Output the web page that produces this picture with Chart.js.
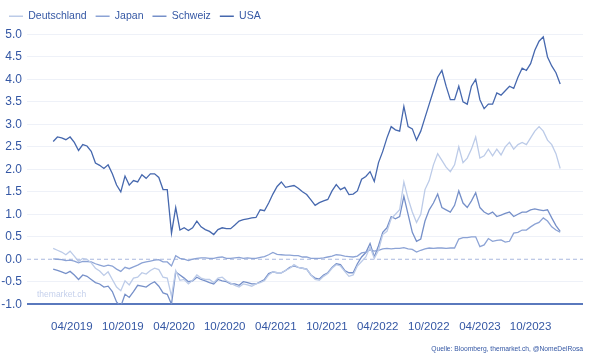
<!DOCTYPE html>
<html>
<head>
<meta charset="utf-8">
<script src="https://cdn.jsdelivr.net/npm/chart.js@4/dist/chart.umd.min.js"></script>
<style>
  html, body { margin: 0; padding: 0; background: #fff; }
  canvas { display: block; }
</style>
</head>
<body>
<canvas id="yieldChart" width="606" height="362"></canvas>
<script>
// 10y government bond yields, one value every half month, 01/2019 .. 12/2023
const deutschland = [
  0.24, 0.20, 0.16, 0.10, 0.18, 0.07, -0.05, 0.02, 0.00, -0.08, -0.20, -0.26,
  -0.36, -0.28, -0.45, -0.62, -0.70, -0.48, -0.57, -0.42, -0.40, -0.30, -0.33, -0.25,
  -0.20, -0.23, -0.40, -0.42, -0.82, -0.25, -0.47, -0.45, -0.55, -0.47, -0.35, -0.42,
  -0.45, -0.45, -0.52, -0.42, -0.40, -0.48, -0.53, -0.58, -0.62, -0.55, -0.57, -0.60,
  -0.55, -0.52, -0.48, -0.35, -0.28, -0.30, -0.30, -0.25, -0.20, -0.12, -0.18, -0.20,
  -0.22, -0.35, -0.45, -0.47, -0.38, -0.32, -0.20, -0.12, -0.15, -0.27, -0.38, -0.35,
  -0.15, -0.05, 0.05, 0.27, 0.02, 0.20, 0.55, 0.62, 0.90, 1.00, 1.10, 1.72,
  1.35, 1.05, 0.82, 1.00, 1.55, 1.75, 2.10, 2.35, 2.20, 2.05, 1.95, 2.10,
  2.50, 2.15, 2.25, 2.45, 2.72, 2.25, 2.30, 2.45, 2.30, 2.45, 2.32, 2.50,
  2.60, 2.45, 2.55, 2.60, 2.55, 2.70, 2.85, 2.95, 2.85, 2.65, 2.55, 2.35,
  2.02
];
const japan = [
  0.01, 0.00, -0.01, -0.03, -0.02, -0.04, -0.08, -0.05, -0.05, -0.06, -0.10, -0.13,
  -0.16, -0.13, -0.15, -0.22, -0.27, -0.18, -0.21, -0.17, -0.13, -0.08, -0.06, -0.04,
  -0.02, -0.01, -0.06, -0.06, -0.15, 0.08, 0.02, 0.00, -0.03, 0.00, 0.02, 0.03,
  0.03, 0.02, 0.02, 0.04, 0.05, 0.02, 0.02, 0.03, 0.04, 0.02, 0.03, 0.02,
  0.02, 0.04, 0.06, 0.10, 0.15, 0.11, 0.10, 0.09, 0.09, 0.08, 0.08, 0.05,
  0.05, 0.02, 0.02, 0.02, 0.03, 0.05, 0.07, 0.10, 0.09, 0.07, 0.06, 0.05,
  0.07, 0.14, 0.16, 0.21, 0.18, 0.20, 0.23, 0.24, 0.23, 0.24, 0.24, 0.26,
  0.23, 0.22, 0.16, 0.20, 0.23, 0.25, 0.24, 0.25, 0.25, 0.24, 0.25, 0.25,
  0.45, 0.48, 0.48, 0.50, 0.50, 0.28, 0.32, 0.46, 0.40, 0.42, 0.43, 0.38,
  0.40, 0.58, 0.60, 0.65, 0.65, 0.72, 0.78, 0.82, 0.92, 0.85, 0.72, 0.65,
  0.60
];
const schweiz = [
  -0.22, -0.25, -0.28, -0.32, -0.27, -0.35, -0.45, -0.35, -0.38, -0.45, -0.52, -0.55,
  -0.62, -0.60, -0.72, -0.95, -1.05, -0.78, -0.85, -0.72, -0.58, -0.60, -0.62, -0.55,
  -0.50, -0.60, -0.75, -0.78, -1.00, -0.28, -0.35, -0.42, -0.50, -0.48, -0.40, -0.45,
  -0.48, -0.52, -0.55, -0.45, -0.48, -0.50, -0.55, -0.55, -0.58, -0.50, -0.52, -0.55,
  -0.55, -0.50, -0.45, -0.32, -0.28, -0.30, -0.30, -0.25, -0.18, -0.15, -0.18, -0.20,
  -0.22, -0.35, -0.42, -0.44, -0.35, -0.30, -0.18, -0.10, -0.12, -0.25, -0.30, -0.30,
  -0.10, 0.05, 0.15, 0.35, 0.05, 0.30, 0.60, 0.70, 0.95, 0.90, 0.95, 1.40,
  1.00, 0.60, 0.40, 0.45, 0.85, 1.10, 1.25, 1.45, 1.15, 1.10, 1.05, 1.20,
  1.52, 1.25, 1.15, 1.30, 1.48, 1.15, 1.05, 1.00, 1.05, 0.95, 0.98, 1.02,
  1.05, 0.95, 1.00, 1.05, 1.05, 1.10, 1.12, 1.10, 1.08, 1.10, 0.92, 0.75,
  0.62
];
const usa = [
  2.62, 2.72, 2.70, 2.66, 2.72, 2.60, 2.42, 2.55, 2.52, 2.40, 2.14, 2.09,
  2.02, 2.10, 1.90, 1.65, 1.50, 1.85, 1.65, 1.75, 1.72, 1.88, 1.80, 1.90,
  1.90, 1.82, 1.55, 1.55, 0.58, 1.15, 0.65, 0.70, 0.64, 0.70, 0.85, 0.72,
  0.66, 0.62, 0.55, 0.66, 0.70, 0.68, 0.68, 0.76, 0.85, 0.88, 0.90, 0.92,
  0.93, 1.10, 1.08, 1.25, 1.45, 1.62, 1.72, 1.60, 1.62, 1.64, 1.58, 1.50,
  1.44, 1.32, 1.20, 1.26, 1.30, 1.33, 1.52, 1.66, 1.55, 1.60, 1.44, 1.45,
  1.52, 1.78, 1.84, 1.95, 1.73, 2.15, 2.40, 2.70, 2.95, 2.88, 2.85, 3.40,
  2.95, 2.90, 2.65, 2.85, 3.15, 3.45, 3.75, 4.05, 4.20, 3.85, 3.55, 3.55,
  3.85, 3.50, 3.45, 3.85, 4.00, 3.55, 3.35, 3.45, 3.45, 3.70, 3.65, 3.75,
  3.85, 3.80, 4.05, 4.25, 4.20, 4.35, 4.65, 4.85, 4.95, 4.50, 4.30, 4.15,
  3.90
];

const seriesNames = ['Deutschland', 'Japan', 'Schweiz', 'USA'];
const seriesColors = ['#bccbe8', '#8ca3d5', '#7690c9', '#4668ae'];
const tickLabels = ['04/2019', '10/2019', '04/2020', '10/2020', '04/2021',
                    '10/2021', '04/2022', '10/2022', '04/2023', '10/2023'];
// label positions on the month axis (0 = start of 01/2019)
const tickMonths = [2.2, 8.25, 14.3, 20.3, 26.35, 32.4, 38.4, 44.45, 50.5, 56.5];
const yTicks = [-1.0, -0.5, 0, 0.5, 1.0, 1.5, 2.0, 2.5, 3.0, 3.5, 4.0, 4.5, 5.0];

const textBlue = '#3457a4';
const fontFamily = '"Liberation Sans", Arial, sans-serif';

const toPoints = (arr) => arr.map((v, i) => ({ x: i * 0.5, y: v }));

const extras = {
  id: 'extras',
  beforeInit(chart) {
    const legend = chart.legend;
    if (legend) {
      const fit = legend.fit;
      legend.fit = function () {
        fit.call(this);
        this.height += 3;
      };
    }
  },
  beforeDatasetsDraw(chart) {
    const { ctx, chartArea, scales } = chart;
    const y0 = scales.y.getPixelForValue(0);
    ctx.save();
    ctx.strokeStyle = '#a9b8de';
    ctx.lineWidth = 1;
    ctx.setLineDash([4, 3]);
    ctx.beginPath();
    ctx.moveTo(chartArea.left, y0);
    ctx.lineTo(chartArea.right, y0);
    ctx.stroke();
    ctx.setLineDash([]);
    ctx.fillStyle = '#c6d1ec';
    ctx.font = '8.5px ' + fontFamily;
    ctx.textBaseline = 'middle';
    ctx.textAlign = 'left';
    ctx.fillText('themarket.ch', chartArea.left + 10, scales.y.getPixelForValue(-0.78));
    ctx.restore();
  },
  afterDraw(chart) {
    const { ctx, chartArea } = chart;
    ctx.save();
    ctx.fillStyle = textBlue;
    ctx.font = '6.7px ' + fontFamily;
    ctx.textAlign = 'right';
    ctx.textBaseline = 'middle';
    ctx.fillText('Quelle: Bloomberg, themarket.ch, @NomeDelRosa', chartArea.right, 349);
    ctx.restore();
  }
};

new Chart(document.getElementById('yieldChart'), {
  type: 'line',
  data: {
    datasets: [
      { label: seriesNames[0], data: toPoints(deutschland) },
      { label: seriesNames[1], data: toPoints(japan) },
      { label: seriesNames[2], data: toPoints(schweiz) },
      { label: seriesNames[3], data: toPoints(usa) }
    ].map((d, i) => ({
      ...d,
      borderColor: seriesColors[i],
      backgroundColor: seriesColors[i],
      borderWidth: 1.3,
      pointRadius: 0,
      tension: 0,
      fill: false
    }))
  },
  options: {
    responsive: false,
    animation: false,
    layout: { padding: { left: 0, right: 23, top: 2, bottom: 12 } },
    plugins: {
      legend: {
        position: 'top',
        align: 'start',
        labels: {
          usePointStyle: true,
          pointStyle: 'line',
          pointStyleWidth: 14,
          color: textBlue,
          font: { family: fontFamily, size: 10.5 },
          padding: 9
        }
      },
      tooltip: { enabled: false }
    },
    scales: {
      x: {
        type: 'linear',
        min: -3.1,
        max: 62.7,
        afterBuildTicks: (scale) => {
          scale.ticks = tickMonths.map((v) => ({ value: v }));
        },
        grid: { display: false, drawTicks: false, tickLength: 0 },
        border: { display: false },
        ticks: {
          autoSkip: false,
          maxRotation: 0,
          padding: 16,
          color: textBlue,
          font: { family: fontFamily, size: 11.5 },
          callback: (value, index) => tickLabels[index]
        }
      },
      y: {
        min: -1,
        max: 5,
        afterBuildTicks: (scale) => {
          scale.ticks = yTicks.map((v) => ({ value: v }));
        },
        afterFit: (scale) => { scale.width = 27; },
        grid: {
          drawTicks: false,
          color: (c) => c.tick.value === 0 ? 'rgba(0,0,0,0)'
            : (c.tick.value === -1 ? '#5a79bd' : '#eef1f8'),
          lineWidth: (c) => c.tick.value === -1 ? 2 : 1
        },
        border: { display: false },
        ticks: {
          padding: 5,
          color: textBlue,
          font: { family: fontFamily, size: 12 },
          callback: (value) => value.toFixed(1)
        }
      }
    }
  },
  plugins: [extras]
});
</script>
</body>
</html>
